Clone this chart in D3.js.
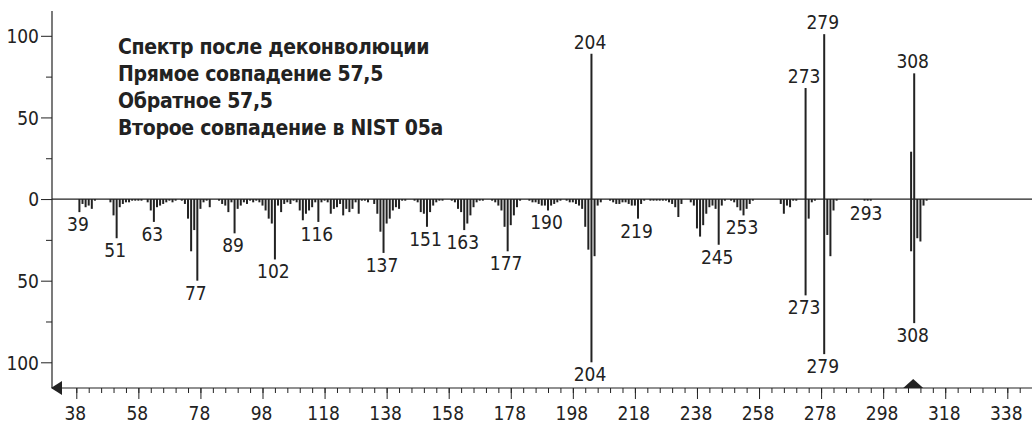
<!DOCTYPE html>
<html><head><meta charset="utf-8">
<script src="https://cdn.jsdelivr.net/npm/d3@7"></script>
<style>
html,body{margin:0;padding:0;background:#fff;}
svg{display:block;}
text{font-family:"Liberation Sans Narrow","Arial Narrow","DejaVu Sans Condensed",sans-serif;font-stretch:condensed;fill:#222;}
</style></head>
<body>
<svg id="chart" width="1032" height="423"></svg>
<script>
// ---- data ----
const legendLines = ["Спектр после деконволюции","Прямое совпадение 57,5","Обратное 57,5","Второе совпадение в NIST 05a"];
// sample (deconvoluted) spectrum, drawn upward
const sampleMz  = [204, 273, 279, 307, 308];
const sampleInt = [89, 68, 101, 29, 77];
// library (NIST) spectrum, drawn downward
const libMz = [39,40,41,42,43,44, 49,50,51,52,53,54,55,56,57,58,59, 61,62,63,64,65,66,67,68,69,70,72,
  73,74,75,76,77,78,79,80,81, 84,85,86,87,88,89,90,91,92,93,94,95,96,
  97,98,99,100,101,102,103,104,105,106,107,108,
  109,110,111,112,113,114,115,116,117,118,119,120,121,122,123,124,125,126,127,128,129,130,131,132,
  134,135,136,137,138,139,140,141,142,143,144, 147,148,149,150,151,152,153,154,155,156,
  159,160,161,162,163,164,165,166,167,168,169, 172,173,174,175,176,177,178,179,180,181,
  184,185,186,187,188,189,190,191,192,193,194, 196,197,198,199,200,201,202,203,204,205,206,207,
  210,211,212,213,214,215,216,217,218,219,220,221, 223,224,225,226,227,228,229,230,231,232,233,
  236,237,238,239,240,241,242,243,244,245,246,247, 249,250,251,252,253,254,255,256,
  265,266,267,268,269,270, 273,274,275,276, 279,280,281,282,283, 292,293,294,
  307,308,309,310,311,312];
const libInt = [8,3,5,4,6,1, 2,10,24,5,3,2,2,1,1,1,1, 2,7,14,5,4,3,2,1,2,1,1,
  3,12,32,19,50,6,2,1,5, 1,3,4,8,2,21,6,4,2,3,1,2,1,
  2,4,7,12,15,37,4,8,3,2,3,1,
  2,7,13,9,7,5,2,14,2,1,2,9,6,5,3,10,6,8,6,2,9,1,1,2,
  3,9,20,33,15,12,7,5,6,1,1, 1,2,8,9,17,8,4,2,1,1,
  1,2,6,8,19,15,10,5,2,1,1, 1,2,4,7,17,32,16,10,5,1,
  1,2,2,3,4,4,7,4,3,2,1, 1,2,2,3,4,6,17,31,100,35,4,2,
  1,2,3,3,2,2,3,4,4,12,3,1, 1,1,1,1,1,1,2,3,5,11,3,
  2,4,18,23,16,9,5,4,6,28,4,1, 1,2,5,7,10,6,3,1,
  3,9,4,5,1,1, 59,12,2,1, 95,22,35,7,1, 1,1,1,
  32,76,24,26,4,1];
const sampleLabels = [204, 273, 279, 308];
const libLabels = [39,51,63,77,89,102,116,137,151,163,177,190,204,219,245,253,273,279,293,308];
const xMajorTicks = d3.range(38, 339, 20);
const xMinorTicks = d3.range(38, 351, 4);
const yMajorTicks = [-100, -50, 0, 50, 100];
const yMinorTicks = [-75, -25, 25, 75];
const markerMz = 308;

// ---- layout ----
const svg = d3.select("#chart");
const axisX0 = 52, axisY0 = 388;
const x = d3.scaleLinear().domain([38, 338]).range([76.3, 1007.3]);
const y = d3.scaleLinear().domain([-100, 100]).range([362.3, 35.8]);
const ink = "#222";
const fs = 19;

// y axis
const gy = svg.append("g").attr("transform", `translate(${axisX0},0)`);
gy.call(d3.axisLeft(y).tickValues(yMajorTicks).tickSize(11).tickPadding(2)
  .tickFormat(d => Math.abs(d)));
gy.call(g => g.select(".domain").remove());
gy.append("g").call(d3.axisLeft(y).tickValues(yMinorTicks).tickSize(6).tickFormat(""))
  .call(g => g.select(".domain").remove());
gy.selectAll("line").attr("stroke", ink).attr("stroke-width", 1);
gy.selectAll("text").attr("font-size", fs).attr("fill", ink).attr("font-family", null).attr("dy", "0.36em");
svg.append("line").attr("x1", axisX0).attr("x2", axisX0).attr("y1", 11).attr("y2", axisY0)
  .attr("stroke", ink).attr("stroke-width", 1.2);

// x axis
const gx = svg.append("g").attr("transform", `translate(0,${axisY0})`);
gx.append("g").call(d3.axisBottom(x).tickValues(xMinorTicks).tickSize(5).tickFormat(""))
  .call(g => g.select(".domain").remove());
gx.append("g").call(d3.axisBottom(x).tickValues(xMajorTicks).tickSize(11).tickPadding(8).tickFormat(d3.format("d")))
  .call(g => g.select(".domain").remove());
gx.selectAll("line").attr("stroke", ink).attr("stroke-width", 1);
gx.selectAll("text").attr("font-size", fs).attr("fill", ink).attr("font-family", null).attr("dx", -1.5);
svg.append("line").attr("x1", axisX0).attr("x2", 1032).attr("y1", axisY0).attr("y2", axisY0)
  .attr("stroke", ink).attr("stroke-width", 1.2);
// left arrow
svg.append("path").attr("d", `M${axisX0-1},${axisY0} L${axisX0+10},${axisY0-7} L${axisX0+10},${axisY0+7} Z`).attr("fill", ink);
// marker triangle
const mx = x(markerMz);
svg.append("path").attr("d", `M${mx-1},${axisY0-9} L${mx+9},${axisY0} L${mx-11},${axisY0} Z`).attr("fill", ink);

// zero line
svg.append("line").attr("x1", axisX0).attr("x2", 1032).attr("y1", y(0)).attr("y2", y(0))
  .attr("stroke", ink).attr("stroke-width", 1.2);

// bars
const up = sampleMz.map((m, i) => ({m, v: sampleInt[i]}));
const down = libMz.map((m, i) => ({m, v: libInt[i]}));
svg.append("g").selectAll("rect").data(down).join("rect")
  .attr("x", d => x(d.m) - 1).attr("width", 2)
  .attr("y", y(0)).attr("height", d => y(-d.v) - y(0))
  .attr("fill", ink);
svg.append("g").selectAll("rect").data(up).join("rect")
  .attr("x", d => x(d.m) - 1).attr("width", 2)
  .attr("y", d => y(d.v)).attr("height", d => y(0) - y(d.v))
  .attr("fill", ink);

// peak labels
const libMap = new Map(down.map(d => [d.m, d.v]));
const sampMap = new Map(up.map(d => [d.m, d.v]));
svg.append("g").selectAll("text").data(libLabels).join("text")
  .attr("x", d => x(d) - 1.5).attr("y", d => y(-libMap.get(d)) + 19)
  .attr("text-anchor", "middle").attr("font-size", fs).text(d => d);
svg.append("g").selectAll("text").data(sampleLabels).join("text")
  .attr("x", d => x(d) - 1.5).attr("y", d => y(sampMap.get(d)) - 5)
  .attr("text-anchor", "middle").attr("font-size", fs).text(d => d);

// legend text
svg.append("g").selectAll("text").data(legendLines).join("text")
  .attr("x", 118).attr("y", (d, i) => 54 + i * 27)
  .attr("font-size", 21).attr("letter-spacing", -0.3).attr("font-weight", "bold").text(d => d);
</script>
</body></html>
